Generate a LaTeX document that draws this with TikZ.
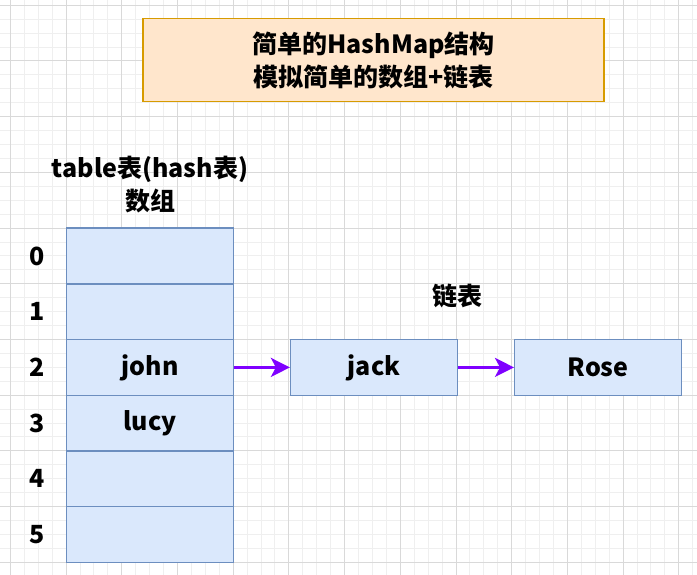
\documentclass[tikz,border=0pt]{standalone}
\usepackage{fontspec}
\setmainfont{Noto Sans CJK SC}
\usetikzlibrary{arrows.meta,positioning}
\definecolor{hmorangefill}{HTML}{FFE6CC}
\definecolor{hmorange}{HTML}{D79B00}
\definecolor{hmbluefill}{HTML}{DAE8FC}
\definecolor{hmblue}{HTML}{6C8EBF}
\definecolor{hmpurple}{HTML}{7F00FF}
\definecolor{gridminor}{HTML}{EFEFEF}
\definecolor{gridmajor}{HTML}{D9D9D9}

\begin{document}
\begin{tikzpicture}[x=1pt,y=-1pt,
  every node/.style={font=\fontsize{25}{33}\selectfont\bfseries},
  cell/.style={draw=hmblue,fill=hmbluefill,line width=1.4pt,minimum width=167pt,minimum height=55.7pt,inner sep=0pt},
  link/.style={-{Stealth[length=19pt,width=19pt,inset=5pt]},hmpurple,line width=2.8pt}]
\useasboundingbox (0,0) rectangle (697,575);
\fill[white] (0,0) rectangle (697,575);
% Grid
\foreach \i in {0,...,49} \draw[gridminor,line width=0.8pt] ({10.3+13.925*\i},0) -- ({10.3+13.925*\i},575);
\foreach \j in {0,...,40} \draw[gridminor,line width=0.8pt] (0,{5.2+13.925*\j}) -- (697,{5.2+13.925*\j});
\foreach \i in {0,...,12} \draw[gridmajor,line width=0.8pt] ({10.3+55.7*\i},0) -- ({10.3+55.7*\i},575);
\foreach \j in {0,...,10} \draw[gridmajor,line width=0.8pt] (0,{5.2+55.7*\j}) -- (697,{5.2+55.7*\j});
% Title box
\node[draw=hmorange,fill=hmorangefill,line width=1.4pt,minimum width=460.7pt,minimum height=83.4pt,align=center] (title) at (373.5,60) {简单的HashMap结构\\模拟简单的数组+链表};
% Table with indices
\node[align=center] (head) at (150,185) {table表(hash表)\\数组};
\foreach \i/\txt in {0/,1/,2/john,3/lucy,4/,5/} {
  \node[cell] (r\i) at (150,{256+55.7*\i}) {\txt};
  \node[left=18pt of r\i] (n\i) {\i};
}
% Linked list
\node[cell,right=55.7pt of r2] (jack) {jack};
\node[cell,right=55.7pt of jack] (rose) {Rose};
\node (list) at (457,296) {链表};
\draw[link] (r2) -- (jack);
\draw[link] (jack) -- (rose);
\end{tikzpicture}
\end{document}
